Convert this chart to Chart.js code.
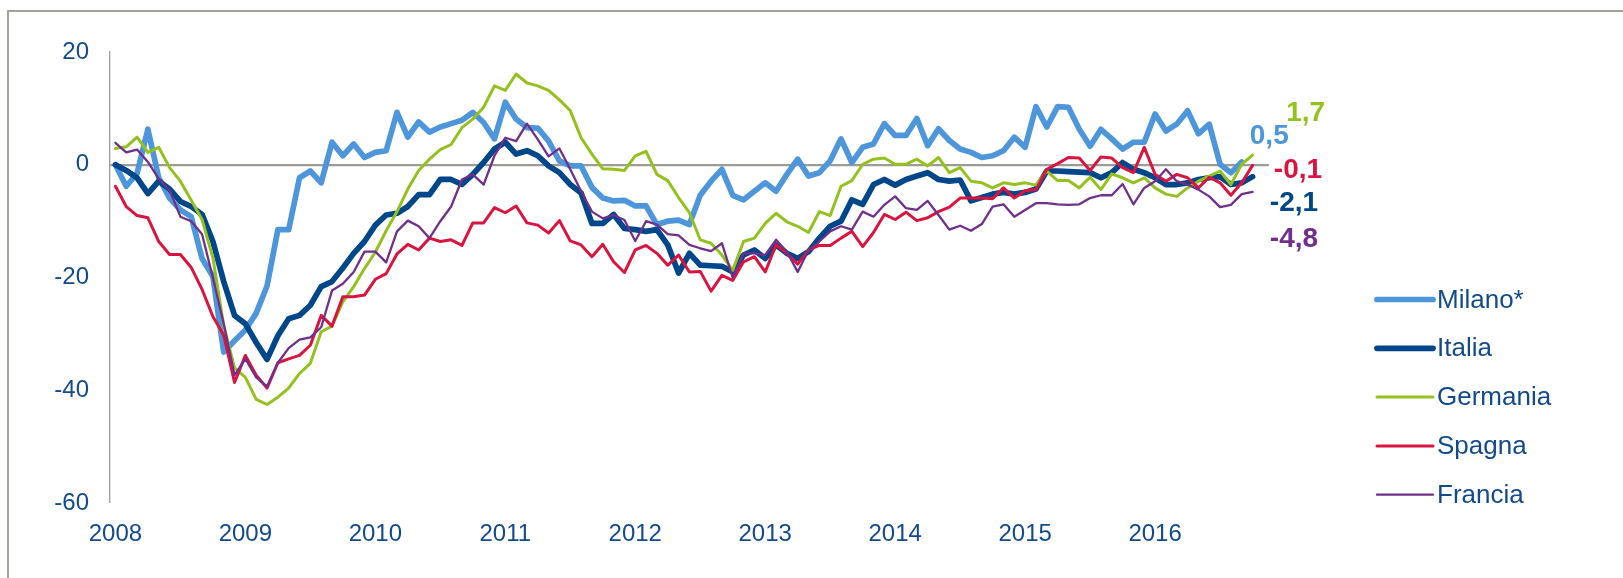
<!DOCTYPE html>
<html>
<head>
<meta charset="utf-8">
<script src="https://cdn.jsdelivr.net/npm/chart.js@4.4.1/dist/chart.umd.min.js"></script>
<style>
  html, body { margin: 0; padding: 0; background: #fff; overflow: hidden; }
  #frame {
    position: absolute; left: 7px; top: 10px; width: 1700px; height: 700px;
    border-left: 2px solid #a2a29a; border-top: 2px solid #a2a29a;
  }
  #chart { position: absolute; left: 0; top: 0; }
</style>
</head>
<body>
<div id="frame"></div>
<canvas id="chart" width="1623" height="578"></canvas>
<script>
// Categories: monthly, Jan 2008 - Nov 2016
const years = [2008, 2009, 2010, 2011, 2012, 2013, 2014, 2015, 2016];
const monthNums = ['01', '02', '03', '04', '05', '06', '07', '08', '09', '10', '11', '12'];
const months = [];
years.forEach(y => monthNums.forEach(m => months.push(y + '-' + m)));
months.splice(107);

const seriesNames = ['Milano*', 'Italia', 'Germania', 'Spagna', 'Francia'];

// Values (Milano stops one month earlier)
const milano = [
  0, -3.8, -1.5, 6.3, -2.3, -5.9, -8, -9.2, -16.6, -19.8, -33.2, -31.2,
  -29.3, -26.3, -21.5, -11.5, -11.5, -2.3, -1.1, -3.2, 4, 1.6, 3.7, 1.3,
  2.2, 2.5, 9.3, 4.9, 7.6, 5.8, 6.7, 7.3, 7.9, 9.3, 7.5, 4.6,
  11.1, 8.1, 6.6, 6.5, 4.2, 0.7, -0.2, -0.2, -4, -5.9, -6.4, -6.3,
  -7.3, -7.3, -10.6, -10, -9.8, -10.6, -5.4, -2.9, -0.8, -5.4, -6.2, -4.7,
  -3.2, -4.7, -1.7, 1, -2, -1.4, 0.7, 4.6, 0.4, 3.1, 3.7, 7.3,
  5.2, 5.2, 8.2, 3.4, 6.4, 4.3, 2.8, 2.2, 1.3, 1.6, 2.5, 4.9,
  3.1, 10.3, 6.7, 10.3, 10.2, 6.3, 3.3, 6.3, 4.6, 2.8, 4, 4,
  9, 6, 7.2, 9.6, 5.5, 7.2, 0.1, -1.4, 0.5, null
];
const italia = [
  0, -1, -2.3, -5.1, -2.9, -4.3, -6.5, -7.4, -8.8, -13.6, -20.7, -26.7,
  -28.2, -31.5, -34.5, -30.3, -27.3, -26.7, -24.9, -21.6, -20.7, -18.3, -15.7, -13.6,
  -10.7, -8.9, -8.6, -7.4, -5.3, -5.3, -2.6, -2.6, -3.5, -1.7, 0.4, 2.8,
  4, 1.9, 2.5, 1.6, -0.2, -1.4, -3.5, -5, -10.4, -10.4, -8.8, -11.3,
  -11.5, -11.8, -11.5, -14.2, -19.2, -15.7, -17.8, -17.9, -18, -19, -16, -15.1,
  -16.6, -14.2, -15.7, -16.6, -15.4, -13, -10.9, -10, -6.2, -7, -3.5, -2.6,
  -3.6, -2.6, -2, -1.4, -2.6, -2.9, -2.7, -6.4, -5.8, -5.2, -4.9, -5.2,
  -4.9, -4.3, -1.1, -1.1, -1.2, -1.3, -1.4, -2.3, -1.4, 0.4, -0.8, -1.4,
  -2.3, -3.5, -3.5, -3.2, -2.6, -2.3, -2.1, -3.5, -3.2, -2.1
];
const germania = [
  2.9, 3.2, 4.9, 2.2, 3.1, -0.5, -2.9, -6.3, -9.7, -16.5, -28.5, -36,
  -37.7, -41.6, -42.5, -41.2, -39.6, -37, -35.2, -29.6, -28.6, -24.3, -21.6, -18.4,
  -15.5, -11.7, -8.3, -4.3, -1, 1, 2.7, 3.6, 6.6, 8.1, 10.2, 14,
  13.2, 16.1, 14.5, 14, 13.2, 11.5, 9.6, 4.8, 1.9, -0.7, -0.8, -1,
  1.6, 2.4, -1.7, -2.8, -5.8, -8.5, -13.3, -13.9, -16, -18.7, -13.6, -13,
  -10.4, -8.6, -10.1, -10.9, -12, -8.3, -9, -3.8, -2.8, 0.1, 1, 1.2,
  0.1, 0.1, 1, -0.2, 1.3, -1.4, -0.5, -2.9, -3.2, -4.1, -3.2, -3.5,
  -3.2, -3.6, -1.1, -2.8, -2.8, -4.1, -2.2, -4.4, -1.6, -2.3, -3.2, -2.3,
  -4.1, -5.2, -5.6, -4.1, -2.9, -2, -1.1, -3.5, 0.1, 1.7
];
const spagna = [
  -3.8, -7.4, -9, -9.4, -13.6, -15.9, -15.9, -18.2, -22.1, -26.9, -30.2, -38.6,
  -33.8, -37.3, -39.6, -35.1, -34.4, -33.8, -32, -26.7, -28.6, -23.4, -23.4, -23.1,
  -20.3, -19.3, -15.8, -14.1, -15.1, -13, -13.6, -13.3, -14.3, -10.3, -10.3, -7.6,
  -8.5, -7.3, -10.3, -10.7, -12.1, -9.9, -13.5, -14.2, -16.3, -14.1, -17.2, -19.1,
  -15.1, -14.3, -15.7, -17.8, -16, -19, -18.9, -22.4, -19.6, -20.5, -17.2, -16.3,
  -19, -14.2, -15.7, -17.6, -15.1, -14.3, -14.3, -13, -11.8, -14.5, -12, -8.8,
  -9.7, -8.4, -9.9, -9.4, -8.3, -7.5, -5.9, -5.9, -5.9, -6, -4.1, -5.9,
  -4.6, -4.4, -0.8, 0.2, 1.3, 1.2, -1, 1.4, 1.2, -0.5, -1.4, 3.1,
  -1.7, -2.9, -1.7, -2.3, -4.1, -2.2, -3.2, -5.4, -3.2, -0.1
];
const francia = [
  3.9, 2.2, 2.7, 0.5, -2.5, -4.5, -9.2, -10, -12.3, -20, -28.2, -37.3,
  -34.4, -37.7, -39.3, -35.1, -32.5, -31, -30.6, -28.8, -22.3, -21.1, -19, -15.4,
  -15.4, -17.3, -11.8, -9.9, -10.9, -13, -10, -7.4, -2.6, -1.7, -3.5, 1.6,
  4.8, 4.2, 7.3, 4.5, 1.5, 2.9, -0.8, -4.7, -8.3, -9.5, -8.9, -9.8,
  -13.5, -10, -10.6, -12.3, -12.5, -14.2, -14.8, -15.3, -13.9, -20, -15.7, -15.7,
  -16, -13.3, -15.4, -19, -15.1, -13.6, -11.8, -10.9, -11.5, -8.3, -9.2, -7.1,
  -5.6, -7.7, -8, -6.4, -8.9, -11.5, -10.8, -11.7, -10.5, -7.4, -7, -9.2,
  -8, -6.8, -6.8, -7, -7.1, -7, -5.9, -5.4, -5.4, -3.4, -7, -4.1,
  -2.9, -0.8, -2.9, -3.5, -4.4, -5.6, -7.5, -7.1, -5.2, -4.8
];

const yTicks = [20, 0, -20, -40, -60];

const FONT = '"Liberation Sans", Arial, sans-serif';
const NAVY_TEXT = '#124a8c';
const GREY = '#9c9c94';

// Bold end values next to the last point of each line
const endLabels = {
  id: 'endLabels',
  afterDatasetsDraw(chart, args, opts) {
    const ctx = chart.ctx;
    ctx.save();
    ctx.font = 'bold 28px ' + FONT;
    ctx.textAlign = 'right';
    ctx.textBaseline = 'middle';
    chart.data.datasets.forEach((ds, i) => {
      let k = ds.data.length - 1;
      while (k > 0 && ds.data[k] == null) k--;
      const pt = chart.getDatasetMeta(i).data[k];
      const off = opts.offsets[i];
      ctx.fillStyle = ds.borderColor;
      ctx.fillText(ds.data[k].toFixed(1).replace('.', ','), pt.x + off[0], pt.y + off[1]);
    });
    ctx.restore();
  }
};

// Legend on the right with line samples
const sideLegend = {
  id: 'sideLegend',
  afterDraw(chart, args, opts) {
    const ctx = chart.ctx;
    ctx.save();
    ctx.font = '26px ' + FONT;
    ctx.textBaseline = 'middle';
    ctx.textAlign = 'left';
    chart.data.datasets.forEach((ds, i) => {
      const y = opts.top + i * opts.gap;
      ctx.strokeStyle = ds.borderColor;
      ctx.lineWidth = ds.borderWidth;
      ctx.lineCap = 'round';
      ctx.beginPath();
      ctx.moveTo(opts.x, y);
      ctx.lineTo(opts.x + opts.len, y);
      ctx.stroke();
      ctx.fillStyle = NAVY_TEXT;
      ctx.fillText(ds.label, opts.x + opts.len + 4, y + 1);
    });
    ctx.restore();
  }
};

const colors = ['#4d96dc', '#00468a', '#95c11f', '#d9143f', '#702f8a'];
const widths = [5.7, 5.7, 3, 3, 2.3];
const values = [milano, italia, germania, spagna, francia];

const datasets = seriesNames.map((name, i) => ({
  label: name,
  data: values[i],
  borderColor: colors[i],
  backgroundColor: colors[i],
  borderWidth: widths[i],
  pointRadius: 0,
  tension: 0,
  fill: false,
  borderJoinStyle: 'round',
  borderCapStyle: 'round',
  order: seriesNames.length - i
}));

new Chart(document.getElementById('chart').getContext('2d'), {
  type: 'line',
  data: { labels: months, datasets: datasets },
  plugins: [endLabels, sideLegend],
  options: {
    responsive: false,
    animation: false,
    devicePixelRatio: 1,
    layout: { padding: { left: 0, top: 52, right: 354.2, bottom: 12 } },
    plugins: {
      legend: { display: false },
      tooltip: { enabled: false },
      endLabels: {
        offsets: [[47, -26], [65.5, 26.5], [72.5, -42], [69.5, 4.5], [65.5, 47]]
      },
      sideLegend: { x: 1377, len: 56, top: 299.5, gap: 48.8 }
    },
    scales: {
      x: {
        type: 'category',
        offset: true,
        grid: { display: false, drawTicks: false },
        border: { display: false },
        ticks: {
          autoSkip: false,
          maxRotation: 0,
          padding: 17,
          color: NAVY_TEXT,
          font: { family: FONT, size: 24 },
          callback: function (value) {
            const lab = this.getLabelForValue(value);
            return lab.endsWith('-01') ? lab.slice(0, 4) : '';
          }
        }
      },
      y: {
        min: yTicks[yTicks.length - 1],
        max: yTicks[0],
        afterFit: scale => { scale.width = 110; },
        afterBuildTicks: scale => { scale.ticks = yTicks.map(v => ({ value: v })); },
        grid: {
          drawTicks: false,
          color: c => (c.tick && c.tick.value === 0 ? GREY : 'rgba(0,0,0,0)'),
          lineWidth: c => (c.tick && c.tick.value === 0 ? 2.2 : 0)
        },
        border: { display: true, color: GREY, width: 1.3 },
        ticks: {
          padding: 21,
          color: NAVY_TEXT,
          font: { family: FONT, size: 24 }
        }
      }
    }
  }
});
</script>
</body>
</html>
